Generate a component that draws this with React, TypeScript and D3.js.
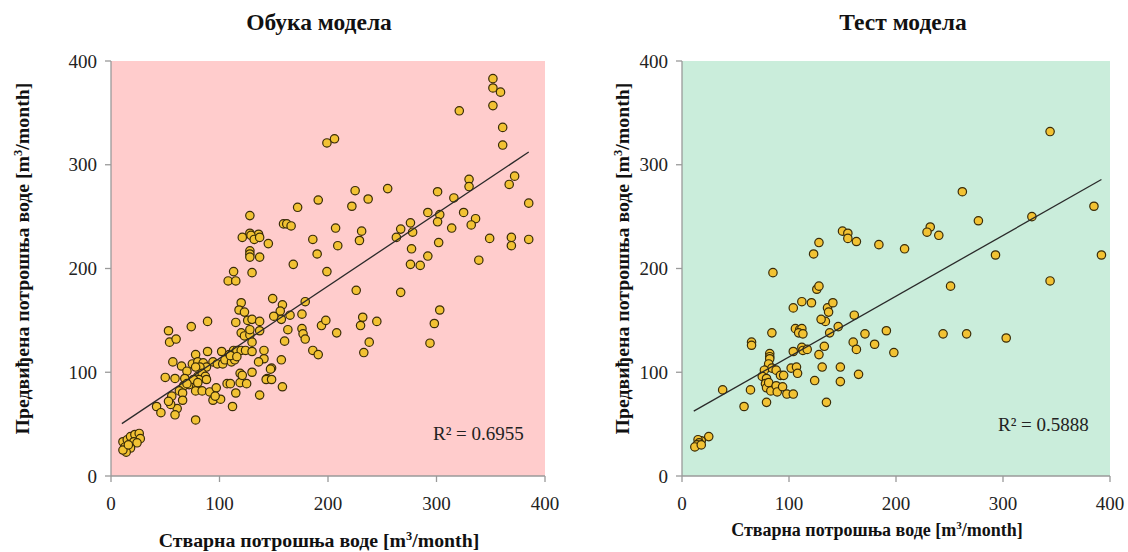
import React from 'react';
import * as d3 from 'd3';

const axisTicks = [0, 100, 200, 300, 400];

const trainActual = [
  199, 206, 191, 172, 128, 159, 162, 166, 128, 136, 121, 129, 132, 137, 145, 186, 190, 128, 128, 128, 137, 168,
  352, 352, 359, 352, 361, 361, 321, 207, 209, 225, 222, 237, 255, 231, 229, 276, 267, 263, 278, 277, 276, 285, 292,
  301, 292, 303, 301, 302, 316, 314, 325, 336, 332, 339, 330, 330, 372, 367, 385, 349, 369, 369, 385,
  226, 267, 303, 298, 294, 232, 245, 230, 238, 233, 208, 199,
  113, 130, 108, 115,
  149, 158, 156, 157, 150, 179, 176, 165,
  120, 118, 123,
  126, 130, 137, 115,
  89, 74, 53, 54, 60,
  120, 123, 128, 137, 130, 128,
  163, 176, 177, 179, 160, 194, 198, 186, 191, 157,
  89, 78, 102, 109, 113, 116, 120, 124, 130, 141, 141, 136,
  94, 98, 103, 105, 111, 114, 110, 116,
  57, 65, 70, 75, 80, 85, 88, 82, 78,
  50, 59, 68, 67, 72, 80, 84, 87, 81, 88, 76,
  63, 56, 66, 70, 79, 78, 84, 80, 91, 97, 94, 101, 96,
  66, 61, 59, 55, 53, 42, 46, 78, 112, 137, 115, 107, 110, 119, 119, 121, 125, 130, 144, 143, 148, 148, 147, 158,
  11, 15, 18, 22, 26, 27, 21, 24, 13, 18, 14, 11, 16,
];
const trainPredicted = [
  321, 325, 266, 259, 251, 243, 243, 241, 234, 233, 230, 232, 228, 230, 224, 228, 214, 217, 214, 211, 211, 204,
  383, 374, 370, 357, 336, 319, 352, 239, 222, 275, 260, 267, 277, 236, 227, 244, 238, 230, 235, 219, 204, 203, 212,
  274, 254, 252, 245, 225, 268, 239, 254, 248, 242, 208, 286, 279, 289, 281, 263, 229, 230, 222, 228,
  179, 177, 160, 147, 128, 153, 149, 145, 129, 119, 138, 197,
  197, 196, 188, 188,
  171, 165, 159, 151, 154, 168, 156, 155,
  167, 160, 158,
  150, 151, 149, 148,
  149, 144, 140, 129, 132,
  138, 135, 136, 140, 129, 141,
  141, 142, 137, 132, 130, 145, 150, 121, 117, 112,
  120, 117, 120, 117, 121, 121, 121, 121, 120, 121, 113, 110,
  110, 108, 108, 112, 110, 112, 116, 115,
  110, 106, 101, 108, 110, 109, 105, 105, 105,
  95, 94, 94, 87, 88, 96, 99, 96, 93, 93, 93,
  82, 77, 80, 89, 86, 82, 82, 90, 81, 85, 73, 74, 77,
  73, 65, 59, 69, 72, 67, 61, 54, 67, 78, 80, 89, 89, 90, 99, 97, 89, 100, 94, 93, 93, 104, 103, 86,
  33, 35, 38, 40, 41, 36, 33, 32, 28, 27, 23, 25, 30,
];

const testActual = [
  150, 155, 155, 163, 128, 123, 184,
  344, 262, 277, 232, 229, 240, 208, 327, 385, 293, 392,
  251, 344, 244, 266, 303,
  85, 126, 128,
  104, 112, 121, 136, 137, 141, 134, 130, 161,
  84, 65, 65,
  106, 110, 112, 109, 113,
  146, 138,
  171, 191, 180, 198, 160, 163,
  104, 112, 113, 117,
  133, 128,
  82, 82, 82, 81, 84, 88, 92, 95, 77, 75, 79, 78, 79, 81,
  83, 88, 89, 94,
  98, 104,
  102, 107, 108,
  131, 148, 165, 148, 124,
  135, 79, 64, 58, 38,
  25, 18, 15, 16, 14, 12, 18,
];
const testPredicted = [
  236, 234, 229, 226, 225, 214, 223,
  332, 274, 246, 240, 235, 232, 219, 250, 260, 213, 213,
  183, 188, 137, 137, 133,
  196, 180, 183,
  162, 168, 167, 162, 158, 167, 149, 151, 155,
  138, 129, 126,
  142, 141, 142, 138, 137,
  144, 138,
  137, 140, 127, 119, 129, 122,
  120, 124, 121, 122,
  125, 117,
  118, 115, 113, 108, 104, 102, 97, 97, 102, 96, 94, 89, 85, 90,
  82, 87, 81, 86,
  79, 79,
  104, 105, 99,
  105, 105, 98, 91, 92,
  71, 71, 83, 67, 83,
  38, 34, 35, 32, 30, 28, 30,
];

// linear trend lines: [slope, intercept], and x extent
const trainFit = [0.698, 43.5];
const trainFitRange = [10, 385];
const testFit = [0.586, 56.1];
const testFitRange = [11, 392];

const titles = ['Обука модела', 'Тест модела'];
const r2Labels = ['R² = 0.6955', 'R² = 0.5888'];
const yLabelText = 'Предвиђена потрошња воде  [m';
const xLabelText = 'Стварна потрошња воде [m';

const FONT = '"Liberation Serif", "Times New Roman", serif';

type PanelProps = {
  x0: number; x1: number; y0: number; y1: number;
  bg: string; title: string; xs: number[]; ys: number[];
  fit: number[]; fitRange: number[]; r2: string;
  r2X: number; r2Y: number; yLabelX: number; xLabelY: number;
  xLabelX: number; xLabelSize: number; titleX: number;
};

function Panel(p: PanelProps) {
  const x = d3.scaleLinear().domain([0, 400]).range([p.x0, p.x1]);
  const y = d3.scaleLinear().domain([0, 400]).range([p.y0, p.y1]);
  const line = d3.line<number>().x(d => x(d)).y(d => y(p.fit[0] * d + p.fit[1]));
  const cy = (p.y0 + p.y1) / 2;
  const axisColor = '#9a9a9a';
  const supSize = p.xLabelSize * 0.62;
  return (
    <g fontFamily={FONT}>
      <rect x={p.x0} y={p.y1} width={p.x1 - p.x0} height={p.y0 - p.y1} fill={p.bg} />
      <line x1={p.x0} x2={p.x0} y1={p.y1} y2={p.y0} stroke={axisColor} strokeWidth={1.3} />
      <line x1={p.x0} x2={p.x1} y1={p.y0} y2={p.y0} stroke={axisColor} strokeWidth={1.3} />
      {axisTicks.map(t => (
        <g key={'yt' + t}>
          <line x1={p.x0 - 6} x2={p.x0} y1={y(t)} y2={y(t)} stroke={axisColor} strokeWidth={1.3} />
          <text x={p.x0 - 14} y={y(t) + 6.5} textAnchor="end" fontSize={19} fill="#222">{t}</text>
        </g>
      ))}
      {axisTicks.map(t => (
        <g key={'xt' + t}>
          <line x1={x(t)} x2={x(t)} y1={p.y0} y2={p.y0 + 6} stroke={axisColor} strokeWidth={1.3} />
          <text x={x(t)} y={p.y0 + 34} textAnchor="middle" fontSize={19} fill="#222">{t}</text>
        </g>
      ))}
      {p.xs.map((v, i) => (
        <circle key={i} cx={x(v)} cy={y(p.ys[i])} r={4.2} fill="#F2C233" stroke="#3a2c08" strokeWidth={1.2} />
      ))}
      <path d={line(p.fitRange) || ''} stroke="#2a2a2a" strokeWidth={1.3} fill="none" />
      <text x={p.r2X} y={p.r2Y} fontSize={19} fill="#222">{p.r2}</text>
      <text x={p.titleX} y={30} textAnchor="middle" fontSize={23.5} fontWeight="bold" fill="#111">{p.title}</text>
      <text transform={`translate(${p.yLabelX},${cy - 10}) rotate(-90)`} textAnchor="middle" fontSize={19.8} fontWeight="bold" fill="#111">
        {yLabelText}<tspan dy={-7} fontSize={12.5}>3</tspan><tspan dy={7}>/month]</tspan>
      </text>
      <text x={p.xLabelX} y={p.xLabelY} textAnchor="middle" fontSize={p.xLabelSize} fontWeight="bold" fill="#111">
        {xLabelText}<tspan dy={-7} fontSize={supSize}>3</tspan><tspan dy={7}>/month]</tspan>
      </text>
    </g>
  );
}

export default function App() {
  return (
    <svg width={1128} height={552} style={{ position: 'absolute', left: 0, top: 0, background: '#fff' }}>
      <Panel x0={111} x1={545} y0={476} y1={61} bg="#FFCCCC" title={titles[0]} xs={trainActual} ys={trainPredicted}
        fit={trainFit} fitRange={trainFitRange} r2={r2Labels[0]} r2X={433} r2Y={440} yLabelX={29} xLabelY={547}
        xLabelX={319} xLabelSize={19.8} titleX={319} />
      <Panel x0={682} x1={1110} y0={476} y1={61} bg="#CAEDDB" title={titles[1]} xs={testActual} ys={testPredicted}
        fit={testFit} fitRange={testFitRange} r2={r2Labels[1]} r2X={998} r2Y={431} yLabelX={629} xLabelY={536}
        xLabelX={877} xLabelSize={18} titleX={903} />
    </svg>
  );
}
